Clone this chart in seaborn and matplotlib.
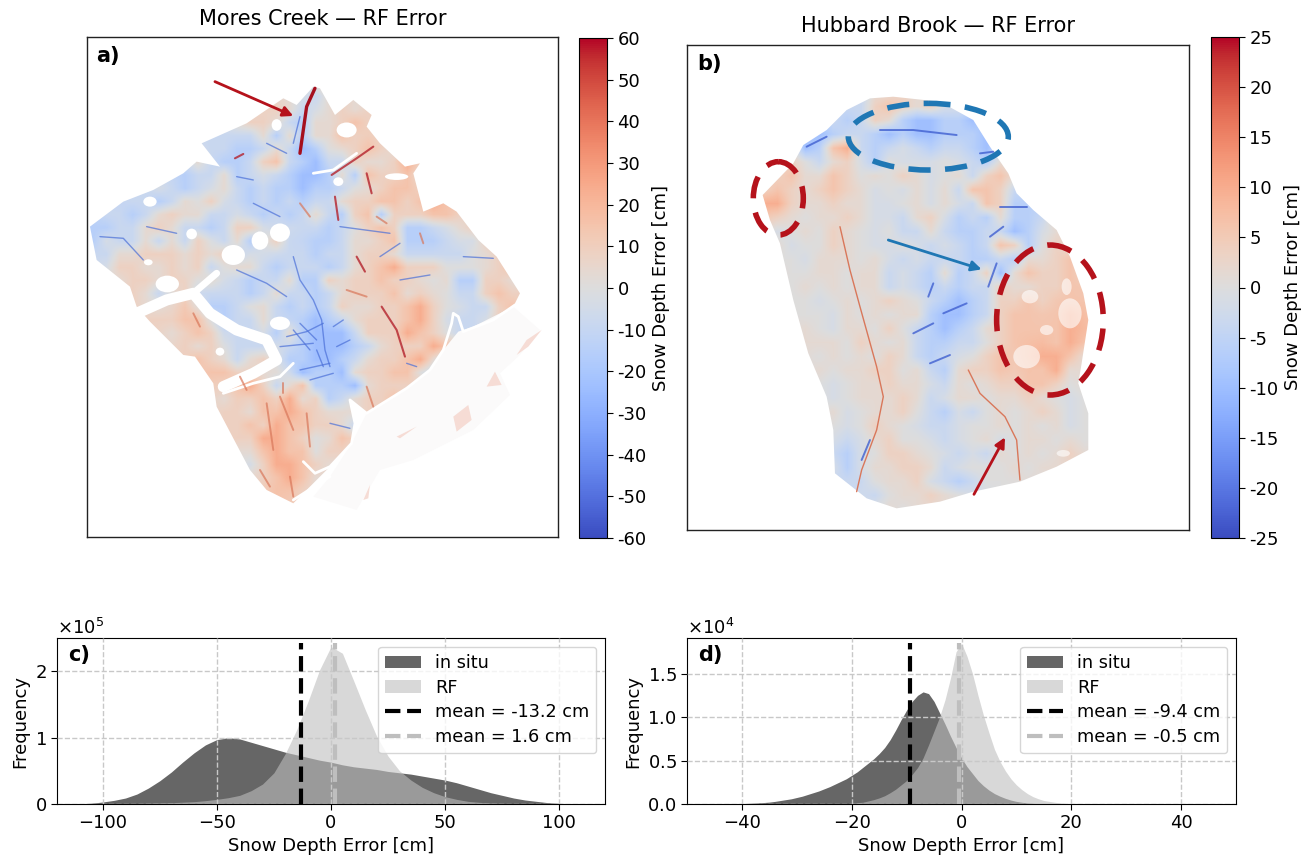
import matplotlib
matplotlib.use('Agg')
import matplotlib.pyplot as plt
from matplotlib.patches import Ellipse, Polygon
import seaborn as sns
import numpy as np

# error maps, one letter per cell (a strong blue ... f neutral ... l dark red, . no data)
mores_rows = [
    '', '', '',
    '.................gh',
    '...............gedghgff',
    '..............hgdeghghhf',
    '...........ghhgdcgghi.hgg',
    '..........dddgcgcggih.hgg',
    '.........ddccdgdbcfghihggh',
    '........gdccdhidcbddhgghjhg',
    '.......cddgcdedcbbcgcihhigihg',
    '.....edcdegdcdccbccdfghiihiihg',
    '...ddcdgfhedcdcdcddghhiihijiihhg',
    '.ddcdghggddedcdcdgdchichhhiihgg',
    'ccddghgddcdhhe..ddcdfhihccdeghihgg',
    'ceddgdgdh.dgc.hd.ccdgghicccdeehihggg',
    'ddgghhhghghde..ddcddghhgdddddfghggghh',
    '.ehhgghghdfgg.cdddcdghijhhhfffghigchg',
    '..ghhgh..g.dcddgcchghhihhgfgcchhgfdd',
    '...hgd...d.dcdgddcdghhhighgfddhihhfd',
    '...h.....ccdfgdcdcdhgghhijhfeddhihgf',
    '.....hhii.cddgd.cbcdghhhijheddeh.hg',
    '......ghih.ddecgcbbbdhhhjihfdde.dde',
    '........g..ddd.d.bbbcdghhhjihdc.g',
    '........ihgdgh..cbbcdghhijgdcd',
    '.........iih.g..bccbghhiifdd.d',
    '..........hij.dgicccbghhhheff',
    '..........g.hihjghcdghhiged',
    '..........hhgiijihggghhif',
    '...........hihjiihhgdbf',
    '............hjjihfgihgg',
    '............gijiifhhgg',
    '............ehjjihgg',
    '.............hijig.hgh',
    '...............ihgg',
    '', '', '',
]
hubbard_rows = [
    '', '', '',
    '............dgghgfee',
    '...........ddhihgheedd',
    '.........cdcdhgcbbccbcd',
    '........bbcddcbcbbcccbbe',
    '.......gbcijdcdedcddcbd',
    '.......hfdghecfeeefedcgf',
    '......higgihfgfhgefgdhig',
    '.....hihghihgefegegdiihdcd',
    '.....jjhgghggeefgegedihccc',
    '......hgfgghgeedghecdcgccdh',
    '......efgfhgfefddgdccddbcegh',
    '......geffhgfeefededcdihcfhgh',
    '......ffegggfgededddccdcgghihh',
    '......gffggfggdedcgcdhbgihhih.i',
    '.......fgfgfggdedcdcddhgghhi.ii',
    '.......ffefgfghgfdcbcdhhih.ii.ii',
    '........ffegfgfggcbbcdhii.ij.ii',
    '........gfeggfhfdcbcdghii.ij.i',
    '........gggfhgfgdccddfhi..ij.i',
    '.........fgfgfhgdcdefhi..jjig',
    '.........gfgghhfgdcghhi..ijgg',
    '.........fefgghggedgfghhiihfg',
    '.........fefggghgdeggfgghgfef',
    '..........gefgghfdcedfgfghgef',
    '..........fefhgfeddeffgfgfgef',
    '..........edeghffedefgefggfgf',
    '..........dcefhhgfededgfgf.hg',
    '..........ecegghhgdefffgfg',
    '...........ddfgghedcdff',
    '.............dfgghgfe',
    '..............gfg',
    '',
]
levels = dict(a=-.8, b=-.55, c=-.35, d=-.2, e=-.08, f=0, g=.08, h=.2, i=.35, j=.55, k=.8, l=1)

# map outlines and linear features, in pixels of a 3x crop of each panel
mores_outline_x = [30, 130, 220, 310, 350, 420, 365, 500, 610, 650, 700, 720, 765, 820, 875, 860, 900, 975, 1020, 1000, 1030, 1090, 1130, 1195, 1250, 1320, 1300, 1180, 1135, 1090, 1050, 980, 860, 810, 825, 815, 750, 640, 560, 510, 410, 400, 345, 310, 210, 170, 150, 50]
mores_outline_y = [590, 515, 480, 430, 395, 410, 340, 280, 205, 225, 170, 175, 255, 210, 255, 290, 340, 410, 400, 430, 545, 520, 545, 630, 680, 790, 830, 890, 905, 960, 1020, 1075, 1150, 1110, 1180, 1240, 1310, 1420, 1380, 1320, 1130, 1060, 980, 975, 875, 830, 770, 690]
hubbard_outline_x = [248, 340, 370, 440, 500, 570, 640, 780, 880, 930, 985, 1010, 1060, 1130, 1170, 1210, 1225, 1205, 1195, 1225, 1225, 1130, 1020, 880, 780, 650, 560, 465, 460, 440, 385, 340, 300, 270]
hubbard_outline_y = [495, 400, 345, 300, 240, 205, 200, 215, 270, 350, 430, 490, 540, 600, 680, 790, 870, 1000, 1060, 1150, 1260, 1310, 1355, 1385, 1415, 1435, 1405, 1330, 1200, 1100, 970, 810, 640, 570]

# gaps in the maps as (x, y, width, height)
mores_holes = [(335, 612, 32, 32), (205, 697, 26, 18), (262, 762, 70, 50), (775, 455, 30, 26),
               (420, 965, 26, 24), (460, 675, 70, 60), (600, 608, 60, 55), (540, 632, 50, 55),
               (800, 300, 60, 45), (590, 285, 30, 35), (210, 515, 40, 30), (950, 440, 70, 20),
               (600, 880, 60, 40)]
hubbard_pale = [(1040, 980, 80, 70), (1170, 850, 70, 90), (1160, 770, 30, 50), (1050, 800, 50, 40),
                (1100, 900, 40, 30), (1150, 1270, 40, 20)]
mores_channels = [
    [(170, 850), (260, 810), (340, 790), (390, 850), (470, 900), (560, 930), (590, 990), (520, 1030), (430, 1070)],
    [(340, 790), (410, 730)],
]
mores_faint = [(1300, 830), (1380, 900), (1320, 975), (1260, 1030), (1290, 1095), (1180, 1200), (1000, 1290), (900, 1320), (830, 1440), (700, 1400), (750, 1340), (815, 1240), (860, 1150), (1050, 1020), (1130, 905)]
mores_pink = [
    [(1310, 975), (1340, 930), (1385, 900), (1345, 950)],
    [(1220, 1070), (1245, 1025), (1265, 1065)],
    [(1120, 1160), (1165, 1125), (1175, 1170), (1130, 1205)],
    [(950, 1220), (1010, 1190), (960, 1225)],
    [(850, 1410), (870, 1365), (865, 1405)],
]
mores_blue = [
    [(640, 680), (660, 750), (700, 810), (725, 870), (735, 960), (750, 1010)],
    [(470, 720), (560, 760), (620, 800)],
    [(620, 920), (680, 905), (730, 880)],
    [(600, 950), (700, 940)],
    [(640, 900), (690, 960)],
    [(660, 880), (710, 930)],
    [(710, 960), (730, 1010)],
    [(770, 950), (810, 930)],
    [(760, 890), (790, 870)],
    [(660, 1020), (750, 1000)],
    [(690, 1050), (760, 1030)],
    [(60, 620), (130, 625), (190, 690)],
    [(1150, 680), (1240, 685)],
    [(960, 750), (1050, 735)],
    [(780, 590), (930, 610)],
    [(750, 1180), (810, 1195)],
    [(660, 260), (640, 340)],
    [(560, 340), (620, 370)],
    [(470, 440), (520, 450)],
    [(520, 520), (600, 560)],
    [(200, 590), (290, 610)],
    [(900, 680), (960, 640)],
    [(980, 1000), (1010, 1010)],
]
mores_red = [
    [(880, 350), (830, 385), (755, 435)],
    [(465, 385), (490, 372)],
    [(860, 430), (875, 490)],
    [(765, 500), (775, 570)],
    [(905, 830), (950, 900), (975, 980)],
    [(830, 680), (855, 725)],
]
mores_ridges = [
    [(560, 1120), (580, 1260)],
    [(600, 1100), (640, 1200)],
    [(680, 1150), (690, 1250)],
    [(480, 1040), (500, 1080)],
    [(340, 850), (360, 890)],
    [(610, 1060), (610, 1090)],
    [(540, 1320), (570, 1370)],
    [(630, 1340), (640, 1400)],
    [(890, 560), (920, 580)],
    [(1020, 610), (1030, 640)],
    [(800, 780), (860, 800)],
    [(860, 1070), (880, 1130)],
    [(660, 520), (690, 560)],
]
mores_streak = [(705, 175), (680, 230), (660, 370)]
mores_river = [
    [(1305, 825), (1240, 870), (1150, 905), (1135, 860), (1120, 850), (1115, 880), (1090, 960), (1050, 1020), (980, 1075), (860, 1150), (810, 1110), (825, 1180), (815, 1240), (750, 1310), (705, 1330), (670, 1295)],
    [(750, 1340), (640, 1410)],
    [(430, 1090), (520, 1060), (600, 1040), (640, 1000)],
    [(830, 370), (760, 420), (700, 430)],
]
hubbard_red = [
    [(865, 1020), (900, 1090), (975, 1160), (1010, 1230), (1020, 1350)],
    [(480, 590), (510, 720), (540, 830), (590, 1010), (610, 1100), (590, 1200), (545, 1320), (530, 1385)],
]
hubbard_blue = [
    [(950, 700), (925, 770)],
    [(760, 760), (745, 800)],
    [(860, 820), (790, 850)],
    [(600, 300), (700, 300), (830, 315)],
    [(380, 350), (440, 320)],
    [(900, 370), (940, 365)],
    [(960, 530), (1040, 530)],
    [(930, 620), (970, 590)],
    [(700, 910), (760, 880)],
    [(750, 1000), (810, 975)],
    [(545, 1290), (570, 1230)],
]

# histograms, frequency in units of 1e5 (mores) and 1e4 (hubbard)
mores_bins = np.arange(-115, 120, 5)
mores_insitu = [0, .003, .012, .03, .055, .09, .15, .24, .35, .48, .63, .77, .89, .97, 1.0, .98, .93, .88, .83, .78, .74, .70, .66, .63, .59, .56, .54, .52, .49, .47, .45, .42, .39, .36, .32, .27, .22, .17, .13, .09, .06, .04, .02, .01, .004, .001, 0]
mores_rf = [0, 0, 0, .002, .003, .005, .008, .012, .016, .02, .027, .035, .05, .07, .095, .13, .2, .3, .47, .76, 1.12, 1.55, 2.02, 2.37, 2.27, 1.85, 1.42, 1.02, .72, .5, .36, .25, .17, .11, .07, .04, .025, .015, .01, .005, .003, .002, .001, 0, 0, 0, 0]
hubbard_insitu_bins = np.arange(-40, 16)
hubbard_insitu = [.005, .007, .01, .013, .017, .022, .03, .04, .05, .06, .075, .09, .11, .13, .15, .175, .2, .23, .26, .29, .33, .37, .42, .47, .52, .58, .65, .74, .85, .97, 1.08, 1.18, 1.25, 1.29, 1.27, 1.18, 1.05, .92, .78, .65, .53, .43, .35, .27, .21, .16, .12, .09, .065, .045, .03, .02, .012, .007, .004, .002]
hubbard_rf_bins = np.arange(-20, 21)
hubbard_rf = [.01, .015, .02, .035, .05, .07, .095, .13, .17, .22, .27, .34, .42, .53, .68, .84, 1.0, 1.2, 1.45, 1.75, 1.85, 1.7, 1.5, 1.25, 1.02, .82, .63, .49, .38, .29, .22, .165, .12, .085, .06, .04, .03, .02, .012, .006, .003]

W, H = 1314, 860
sns.set_style('ticks')
plt.rcParams.update({'font.size': 13, 'text.color': 'black', 'axes.labelcolor': 'black',
                     'xtick.color': 'black', 'ytick.color': 'black', 'axes.edgecolor': 'black',
                     'xtick.major.size': 4, 'ytick.major.size': 4})
fig = plt.figure(figsize=(W / 100, H / 100), dpi=100)


def add_axes(left, top, right, bottom):
    return fig.add_axes([left / W, 1 - bottom / H, (right - left) / W, (bottom - top) / H])


def draw_map(ax, cax, rows, vmax, gain, ticks, crop_w, crop_h, x0, y0, outline_x, outline_y):
    ncols = 36
    nrows = len(rows)
    grid = np.full((nrows, ncols), np.nan)
    for r, row in enumerate(rows):
        for c, ch in enumerate(row[:ncols]):
            if ch != '.':
                grid[r, c] = levels[ch] * vmax * gain
    sns.heatmap(grid, cmap='coolwarm', vmin=-vmax, vmax=vmax, ax=ax, cbar_ax=cax,
                xticklabels=False, yticklabels=False,
                cbar_kws={'label': 'Snow Depth Error [cm]'})
    mesh = ax.collections[0]

    # close the empty cells from their neighbours, the outline clips the outer ones off again
    smooth = grid.copy()
    for _ in range(6):
        filled = smooth.copy()
        for r, c in zip(*np.nonzero(np.isnan(smooth))):
            near = smooth[max(r - 1, 0):r + 2, max(c - 1, 0):c + 2]
            if np.isfinite(near).any():
                filled[r, c] = np.nanmean(near)
        smooth = filled

    sx, sy = ncols / crop_w, nrows / crop_h

    def to_cells(points):
        return [((x - x0) * sx, (y - y0) * sy) for x, y in points]

    im = ax.imshow(smooth, cmap='coolwarm', vmin=-vmax, vmax=vmax, interpolation='bilinear',
                   extent=(0, ncols, nrows, 0), aspect='auto')
    im.set_clip_path(Polygon(to_cells(zip(outline_x, outline_y)), transform=ax.transData))
    mesh.set_visible(False)
    ax.set_xlim(0, ncols)
    ax.set_ylim(nrows, 0)
    for side in ax.spines.values():
        side.set_visible(True)
        side.set_linewidth(1)
        side.set_color('#222222')
    cbar = mesh.colorbar
    cbar.outline.set_linewidth(.8)
    cbar.set_ticks(ticks)
    cbar.set_ticklabels([str(t) for t in ticks])
    cbar.ax.tick_params(labelsize=13, length=4, width=.8, color='black')
    return to_cells, sx, sy


def draw_lines(ax, to_cells, lines, color, lw, alpha=1.0):
    for line in lines:
        pts = np.array(to_cells(line))
        ax.plot(pts[:, 0], pts[:, 1], color=color, lw=lw, alpha=alpha, solid_capstyle='round')


def draw_spots(ax, to_cells, spots, sx, sy, alpha=1.0):
    for x, y, w, h in spots:
        ax.add_patch(Ellipse(to_cells([(x, y)])[0], w * sx, h * sy, fc='white', ec='none', alpha=alpha))


def draw_arrow(ax, to_cells, start, end, color):
    (p0, p1) = to_cells([start, end])
    ax.annotate('', xy=p1, xytext=p0,
                arrowprops=dict(arrowstyle='-|>', color=color, lw=2, mutation_scale=15,
                                shrinkA=0, shrinkB=0))


# panel a
ax_a = add_axes(87.3, 37.3, 558.3, 537.3)
cax_a = add_axes(579, 38, 607, 538)
cells_a, sx_a, sy_a = draw_map(ax_a, cax_a, mores_rows, 60, .72, list(range(-60, 61, 10)),
                               1413, 1500, 22, 22, mores_outline_x, mores_outline_y)
ax_a.add_patch(Polygon(cells_a(mores_faint), fc='#fbfafa', ec='none', zorder=-2))
for patch in mores_pink:
    ax_a.add_patch(Polygon(cells_a(patch), fc='#f6dcd5', ec='none', zorder=-1))
draw_spots(ax_a, cells_a, mores_holes, sx_a, sy_a)
draw_lines(ax_a, cells_a, mores_channels[:1], 'white', 8)
draw_lines(ax_a, cells_a, mores_channels[1:], 'white', 5)
draw_lines(ax_a, cells_a, mores_river, 'white', 2)
draw_lines(ax_a, cells_a, mores_blue, '#4a6fd8', 1, .7)
draw_lines(ax_a, cells_a, mores_ridges, '#d9775a', 1.4, .7)
draw_lines(ax_a, cells_a, mores_red, '#b4222c', 1.5, .8)
draw_lines(ax_a, cells_a, [mores_streak], '#a50f1e', 2.4)
draw_arrow(ax_a, cells_a, (405, 155), (640, 258), '#b5121b')
ax_a.set_title('Mores Creek — RF Error', fontsize=15, pad=9)
ax_a.text(.019, .963, 'a)', transform=ax_a.transAxes, fontsize=15, fontweight='bold', va='center')

# panel b
ax_b = add_axes(687.3, 44.7, 1189.3, 530)
cax_b = add_axes(1211, 37, 1239, 538)
cells_b, sx_b, sy_b = draw_map(ax_b, cax_b, hubbard_rows, 25, .7, list(range(-25, 26, 5)),
                               1506, 1456, 22, 44, hubbard_outline_x, hubbard_outline_y)
draw_spots(ax_b, cells_b, hubbard_pale, sx_b, sy_b, .6)
draw_lines(ax_b, cells_b, hubbard_red, '#d9775a', 1)
draw_lines(ax_b, cells_b, hubbard_blue, '#3f5fd0', 1.4, .8)
for (cx, cy), (ew, eh), color in [((745, 320), (480, 200), '#1f77b4'),
                                  ((295, 505), (150, 220), '#b5121b'),
                                  ((1110, 870), (320, 450), '#b5121b')]:
    center = cells_b([(cx, cy)])[0]
    ax_b.add_patch(Ellipse(center, ew * sx_b, eh * sy_b, fill=False, ec=color, lw=4,
                           ls=(0, (4, 2.6))))
draw_arrow(ax_b, cells_b, (625, 630), (905, 718), '#1f77b4')
draw_arrow(ax_b, cells_b, (882, 1393), (975, 1222), '#b5121b')
ax_b.set_title('Hubbard Brook — RF Error', fontsize=15, pad=9)
ax_b.text(.019, .96, 'b)', transform=ax_b.transAxes, fontsize=15, fontweight='bold', va='center')


def draw_hist(ax, bins1, insitu, bins2, rf, scale, means, xlim, ylim, yticks, tag):
    for bins, values, color, alpha, label in [(bins1, insitu, 'black', .6, 'in situ'),
                                              (bins2, rf, '#bebebe', .6, 'RF')]:
        step = bins[1] - bins[0]
        edges = np.append(bins - step / 2, bins[-1] + step / 2).tolist()
        sns.histplot(x=bins, weights=np.array(values) * scale, bins=edges, element='poly',
                     color=color, alpha=alpha, linewidth=0, ax=ax, label=label)
    ax.axvline(means[0], ymax=.97, color='black', ls='--', lw=3,
               label=f'mean = {means[0]} cm', zorder=3)
    ax.axvline(means[1], ymax=.97, color='#bebebe', ls='--', lw=3,
               label=f'mean = {means[1]} cm', zorder=3)
    ax.set_xlim(*xlim)
    ax.set_ylim(0, ylim)
    ax.set_yticks(yticks)
    ax.grid(True, ls='--', color='#c8c8c8', lw=1)
    ax.set_axisbelow(False)
    ax.ticklabel_format(axis='y', style='sci', scilimits=(0, 0), useMathText=True)
    ax.yaxis.get_offset_text().set_fontsize(13)
    ax.set_xlabel('Snow Depth Error [cm]', fontsize=13, labelpad=3)
    ax.set_ylabel('Frequency', fontsize=13)
    ax.tick_params(labelsize=13)
    ax.legend(loc='upper right', fontsize=12.7, labelspacing=.38)
    ax.text(.02, .9, tag, transform=ax.transAxes, fontsize=15, fontweight='bold', va='center')


ax_c = add_axes(57, 638, 605, 804)
draw_hist(ax_c, mores_bins, mores_insitu, mores_bins, mores_rf, 1e5, (-13.2, 1.6),
          (-120, 120), 2.5e5, [0, 1e5, 2e5], 'c)')

ax_d = add_axes(687, 638, 1236, 804)
draw_hist(ax_d, hubbard_insitu_bins, hubbard_insitu, hubbard_rf_bins, hubbard_rf, 1e4, (-9.4, -.5),
          (-50, 50), 1.91e4, [0, .5e4, 1e4, 1.5e4], 'd)')

fig.savefig('out.png', dpi=100)
